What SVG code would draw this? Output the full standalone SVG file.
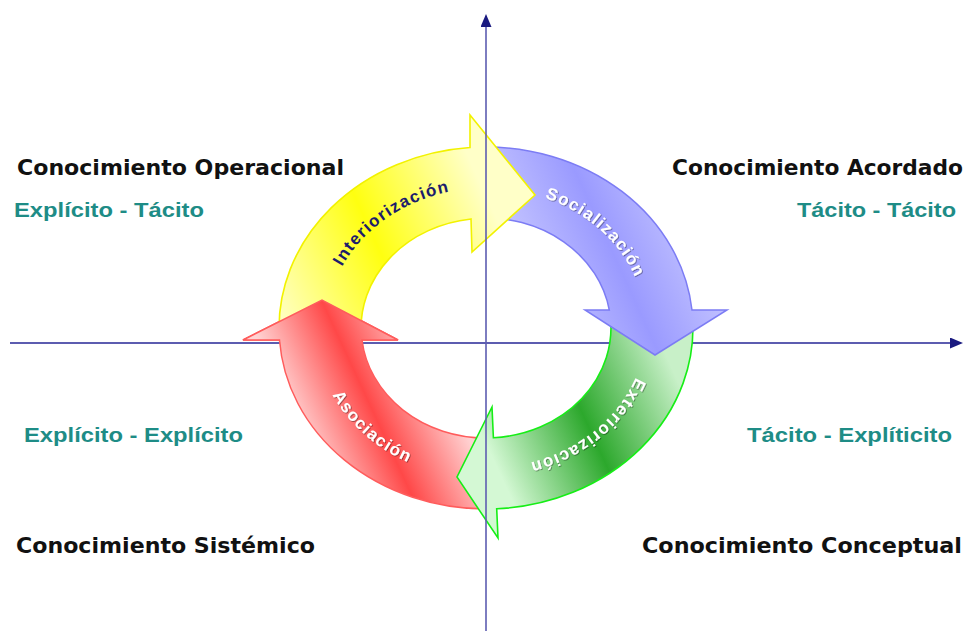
<svg xmlns="http://www.w3.org/2000/svg" xmlns:xlink="http://www.w3.org/1999/xlink" width="971" height="631" viewBox="0 0 971 631">
<style>
.axis{stroke:#5c5cb0;stroke-width:2;fill:none}
.quad{font-family:"DejaVu Sans","Liberation Sans",sans-serif;font-weight:bold;font-size:21px;fill:#111}
.mode{font-family:"Liberation Sans",Arial,sans-serif;font-weight:bold;font-size:19.5px;fill:#1e8c86}
.lbl{font-family:"Liberation Sans",Arial,sans-serif;font-weight:bold;font-size:17px;letter-spacing:1.3px}
.wl{fill:#ffffff;filter:url(#sh)}
</style>
<defs>
<marker id="ah" markerUnits="userSpaceOnUse" markerWidth="14" markerHeight="12" refX="1" refY="5.5" orient="auto">
<path d="M0,0 L13,5.5 L0,11 Z" fill="#1a1a80"/>
</marker>
<linearGradient id="gy" gradientUnits="userSpaceOnUse" x1="261" y1="280" x2="479" y2="180">
<stop offset="0" stop-color="#ffffc4"/><stop offset="0.5" stop-color="#ffff10"/><stop offset="1" stop-color="#ffffc8"/>
</linearGradient>
<linearGradient id="gp" gradientUnits="userSpaceOnUse" x1="491" y1="275" x2="709" y2="175">
<stop offset="0" stop-color="#d4d4ff"/><stop offset="0.5" stop-color="#9a9aff"/><stop offset="1" stop-color="#d4d4ff"/>
</linearGradient>
<linearGradient id="gg" gradientUnits="userSpaceOnUse" x1="506" y1="487" x2="688" y2="403">
<stop offset="0" stop-color="#d4f8d4"/><stop offset="0.5" stop-color="#2ca82c"/><stop offset="1" stop-color="#c8f0c8"/>
</linearGradient>
<linearGradient id="gr" gradientUnits="userSpaceOnUse" x1="299" y1="430" x2="435" y2="367">
<stop offset="0" stop-color="#ffd4d4"/><stop offset="0.5" stop-color="#ff4848"/><stop offset="1" stop-color="#ffd0d0"/>
</linearGradient>
<clipPath id="redhead"><rect x="230" y="280" width="200" height="61.5"/></clipPath>
<filter id="sh" x="-10%" y="-30%" width="120%" height="160%">
<feDropShadow dx="0.8" dy="0.8" stdDeviation="0.7" flood-color="#000" flood-opacity="0.45"/>
</filter>
<path id="redArrow" d="M486,509 A207,181 0 0 1 279.5,340 L243,340 L322,300 L398,340 L362,340 A125,110 0 0 0 486,438 Z" fill="url(#gr)" stroke="#ff5c5c" stroke-width="1.5" stroke-linejoin="miter"/>
<path id="tpY" d="M326,328 A160,140 0 0 1 513.8,190.1"/>
<path id="tpP" d="M477.6,188.2 A160,140 0 0 1 644.8,345.1"/>
<path id="tpG" d="M645.6,318.2 A160,140 0 0 1 469.3,467.2"/>
<path id="tpR" d="M315.8,309.6 A171.5,151 0 0 0 495,478.8"/>
</defs>
<rect width="971" height="631" fill="#ffffff"/>
<g id="connectors">
<line id="axis-x" class="axis" x1="10" y1="343" x2="951" y2="343" marker-end="url(#ah)"/>
</g>
<g id="asociacion">
<use xlink:href="#redArrow"/>
</g>
<g id="exteriorizacion">
<path d="M692.4,315 A207,181 0 0 1 496.7,508.8 L498,538 L457,477 L492,407 L493.4,437.7 A125,110 0 0 0 610.1,315 Z" fill="url(#gg)" stroke="#16ee16" stroke-width="1.6"/>
</g>
<g id="socializacion">
<path d="M478,147.1 A207,181 0 0 1 692,310 L727,310 L655,355 L585,310 L609.3,310 A125,110 0 0 0 478,218.2 Z" fill="url(#gp)" stroke="#7c7cf4" stroke-width="1.5"/>
</g>
<g id="interiorizacion">
<path d="M279.2,335 A207,181 0 0 1 470,147.5 L470,115 L535,195 L472,252 L471,219 A125,110 0 0 0 361.3,335 Z" fill="url(#gy)" stroke="#f2f200" stroke-width="1.6"/>
</g>
<g id="asociacion-head">
<use xlink:href="#redArrow" clip-path="url(#redhead)"/>
</g>
<g id="axis-y-group">
<line id="axis-y" class="axis" x1="486" y1="631" x2="486" y2="26" marker-end="url(#ah)" stroke-opacity="0.8"/>
</g>
<g id="arrow-labels">
<text class="lbl" fill="#1c1c6c" text-anchor="middle"><textPath xlink:href="#tpY" startOffset="50%">Interiorización</textPath></text>
<text class="lbl wl" text-anchor="middle"><textPath xlink:href="#tpP" startOffset="50%">Socialización</textPath></text>
<text class="lbl wl" text-anchor="middle"><textPath xlink:href="#tpG" startOffset="50%">Exteriorización</textPath></text>
<text class="lbl wl" text-anchor="middle"><textPath xlink:href="#tpR" startOffset="50%">Asociación</textPath></text>
</g>
<g id="q-operacional">
<text class="quad" x="17" y="175" textLength="327" lengthAdjust="spacingAndGlyphs">Conocimiento Operacional</text>
<text class="mode" x="14" y="217" textLength="190" lengthAdjust="spacingAndGlyphs">Explícito - Tácito</text>
</g>
<g id="q-acordado">
<text class="quad" x="672" y="175" textLength="291" lengthAdjust="spacingAndGlyphs">Conocimiento Acordado</text>
<text class="mode" x="797" y="217" textLength="159" lengthAdjust="spacingAndGlyphs">Tácito - Tácito</text>
</g>
<g id="q-sistemico">
<text class="mode" x="24" y="442" textLength="219" lengthAdjust="spacingAndGlyphs">Explícito - Explícito</text>
<text class="quad" x="16" y="553" textLength="299" lengthAdjust="spacingAndGlyphs">Conocimiento Sistémico</text>
</g>
<g id="q-conceptual">
<text class="mode" x="747" y="442" textLength="205" lengthAdjust="spacingAndGlyphs">Tácito - Explíticito</text>
<text class="quad" x="642" y="553" textLength="320" lengthAdjust="spacingAndGlyphs">Conocimiento Conceptual</text>
</g>
</svg>
